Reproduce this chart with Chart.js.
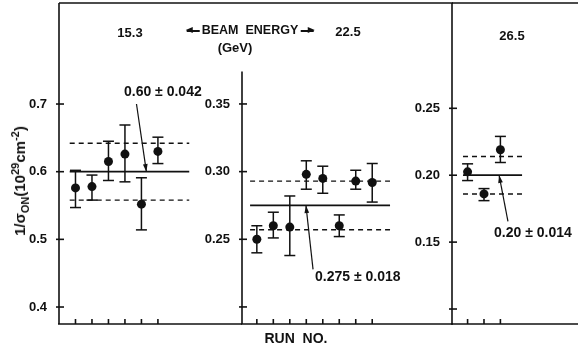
<!DOCTYPE html>
<html>
<head>
<meta charset="utf-8">
<script src="https://cdn.jsdelivr.net/npm/chart.js@4.4.0/dist/chart.umd.min.js"></script>
<style>
  body { margin: 0; background: #fff; }
  #wrap { position: relative; width: 578px; height: 349px; overflow: hidden;
          font-family: 'Liberation Sans', Arial, sans-serif; font-weight: bold; color: #111; }
  #wrap canvas { position: absolute; top: 0; }
  .lbl { position: absolute; white-space: nowrap; transform: translate(-50%, -50%); font-size: 13px; }
  .ytitle { position: absolute; left: 20px; top: 181px; white-space: nowrap; font-size: 15px;
            transform: translate(-50%, -50%) rotate(-90deg); }
  .ytitle sub, .ytitle sup { font-size: 11px; }
  .arr { display: inline-block; position: relative; width: 13px; height: 1.6px; background: #111;
         vertical-align: middle; margin: 0 2px; }
  .arr::before { content: ''; position: absolute; top: -3px; border-top: 3.8px solid transparent;
                 border-bottom: 3.8px solid transparent; }
  .arr.l::before { left: -1px; border-right: 7px solid #111; }
  .arr.r::before { right: -1px; border-left: 7px solid #111; }
</style>
</head>
<body>
<div id="wrap">
  <canvas id="c1" width="242" height="349" style="left:0"></canvas>
  <canvas id="c2" width="270" height="349" style="left:183px"></canvas>
  <canvas id="c3" width="185" height="349" style="left:393px"></canvas>

  <div class="lbl" style="left:130px;top:32px">15.3</div>
  <div class="lbl" style="left:250px;top:30px;font-size:12.5px"><span class="arr l"></span>BEAM&nbsp; ENERGY<span class="arr r"></span></div>
  <div class="lbl" style="left:235px;top:47px;font-size:13px">(GeV)</div>
  <div class="lbl" style="left:348px;top:31px">22.5</div>
  <div class="lbl" style="left:512px;top:35px">26.5</div>
  <div class="ytitle">1/&sigma;<sub>ON</sub>(10<sup>29</sup>cm<sup>-2</sup>)</div>
  <div class="lbl" style="left:296px;top:338px;font-size:14px">RUN&nbsp; NO.</div>
</div>

<script>
// 15.3 GeV runs
const runs1 = [1, 2, 3, 4, 5, 6];
const val1 = [0.576, 0.578, 0.615, 0.626, 0.552, 0.630];
const lo1 = [0.547, 0.558, 0.587, 0.585, 0.514, 0.612];
const hi1 = [0.602, 0.595, 0.645, 0.669, 0.591, 0.651];
const mean1 = 0.60, err1 = 0.042;
const span1 = [0.65, 7.9];
const yTicks1 = [0.4, 0.5, 0.6, 0.7];
const yLabels1 = [0.4, 0.5, 0.6, 0.7];

// 22.5 GeV runs
const runs2 = [1, 2, 3, 4, 5, 6, 7, 8];
const val2 = [0.250, 0.260, 0.259, 0.298, 0.295, 0.260, 0.293, 0.292];
const lo2 = [0.240, 0.251, 0.238, 0.287, 0.284, 0.252, 0.287, 0.2775];
const hi2 = [0.260, 0.270, 0.282, 0.308, 0.304, 0.268, 0.301, 0.306];
const mean2 = 0.275, err2 = 0.018;
const span2 = [0.59, 9.08];
const yTicks2 = [0.20, 0.25, 0.30, 0.35];
const yLabels2 = [0.25, 0.30, 0.35];

// 26.5 GeV runs
const runs3 = [1, 2, 3];
const val3 = [0.2025, 0.186, 0.219];
const lo3 = [0.196, 0.181, 0.2095];
const hi3 = [0.2085, 0.190, 0.229];
const mean3 = 0.20, err3 = 0.014;
const span3 = [0.72, 4.32];
const yTicks3 = [0.10, 0.15, 0.20, 0.25];
const yLabels3 = [0.15, 0.20, 0.25];

const INK = '#111';
const FONT = "bold 14px 'Liberation Sans', Arial, sans-serif";

// frame, inward ticks and the arrowed mean label
const panelDecor = {
  id: 'panelDecor',
  afterDatasetsDraw(chart, args, opts) {
    const { ctx, chartArea: a, scales: { x, y } } = chart;
    const seg = (x0, y0, x1, y1) => { ctx.beginPath(); ctx.moveTo(x0, y0); ctx.lineTo(x1, y1); ctx.stroke(); };
    ctx.save();
    ctx.strokeStyle = INK;
    ctx.fillStyle = INK;
    ctx.lineWidth = 1.6;

    seg(a.left, a.top, a.right, a.top);
    seg(a.left - 1, a.bottom, a.right, a.bottom);
    const axTop = opts.axisTop != null ? y.getPixelForValue(opts.axisTop) : a.top;
    seg(a.left, axTop, a.left, a.bottom);

    y.ticks.forEach(t => {
      const py = y.getPixelForValue(t.value);
      seg(a.left - 3, py, a.left + 5, py);
    });
    opts.runs.forEach(r => {
      const px = x.getPixelForValue(r);
      seg(px, a.bottom, px, a.bottom - 5);
    });

    const n = opts.note;
    const x0 = x.getPixelForValue(n.from[0]), y0 = y.getPixelForValue(n.from[1]);
    const x1 = x.getPixelForValue(n.to[0]), y1 = y.getPixelForValue(n.to[1]);
    ctx.lineWidth = 1.2;
    seg(x0, y0, x1, y1);
    const ang = Math.atan2(y1 - y0, x1 - x0);
    ctx.beginPath();
    ctx.moveTo(x1, y1);
    ctx.lineTo(x1 - 8 * Math.cos(ang - 0.3), y1 - 8 * Math.sin(ang - 0.3));
    ctx.lineTo(x1 - 8 * Math.cos(ang + 0.3), y1 - 8 * Math.sin(ang + 0.3));
    ctx.closePath();
    ctx.fill();

    ctx.font = FONT;
    ctx.textAlign = 'left';
    ctx.textBaseline = 'middle';
    ctx.fillText(n.text, x.getPixelForValue(n.at[0]), y.getPixelForValue(n.at[1]));
    ctx.restore();
  }
};

function makePanel(id, p) {
  const stems = [];
  const caps = [];
  p.runs.forEach((r, i) => {
    stems.push({ x: r, y: p.lo[i] }, { x: r, y: p.hi[i] }, { x: r, y: null });
    caps.push({ x: r, y: p.lo[i] }, { x: r, y: p.hi[i] });
  });
  const hline = (v, dash, w) => ({
    data: [{ x: p.span[0], y: v }, { x: p.span[1], y: v }],
    showLine: true, borderColor: INK, borderWidth: w, borderDash: dash, pointRadius: 0
  });

  return new Chart(document.getElementById(id), {
    type: 'scatter',
    data: {
      datasets: [
        hline(p.mean, [], 1.8),
        hline(p.mean + p.err, [5, 4], 1.4),
        hline(p.mean - p.err, [5, 4], 1.4),
        { data: stems, showLine: true, spanGaps: false, borderColor: INK, borderWidth: 1.5, pointRadius: 0 },
        { data: caps, pointStyle: 'line', pointRadius: 5.5, borderColor: INK, borderWidth: 1.5 },
        { data: p.runs.map((r, i) => ({ x: r, y: p.val[i] })), pointStyle: 'circle', pointRadius: 4.5,
          backgroundColor: INK, borderColor: INK, borderWidth: 0 }
      ]
    },
    options: {
      responsive: false,
      animation: false,
      devicePixelRatio: 1,
      layout: { autoPadding: false, padding: { top: 3, left: 0, right: 0, bottom: 0 } },
      plugins: {
        legend: { display: false },
        tooltip: { enabled: false },
        panelDecor: { runs: p.runs, axisTop: p.axisTop, note: p.note }
      },
      scales: {
        x: {
          type: 'linear', min: p.xRange[0], max: p.xRange[1],
          grid: { display: false }, border: { display: false },
          ticks: { display: false },
          afterFit: s => { s.height = 25; s.paddingLeft = 0; s.paddingRight = 0; }
        },
        y: {
          type: 'linear', min: p.yRange[0], max: p.yRange[1],
          grid: { display: false }, border: { display: false },
          afterBuildTicks: s => { s.ticks = p.yTicks.map(v => ({ value: v })); },
          ticks: {
            color: INK, padding: 4, font: { family: "'Liberation Sans', Arial, sans-serif", size: 13, weight: 'bold' },
            callback: v => p.yLabels.includes(v) ? v.toFixed(p.digits) : ''
          },
          afterFit: s => { s.width = 59; s.paddingTop = 0; s.paddingBottom = 0; }
        }
      }
    },
    plugins: [panelDecor]
  });
}

makePanel('c1', {
  runs: runs1, val: val1, lo: lo1, hi: hi1, mean: mean1, err: err1, span: span1,
  yTicks: yTicks1, yLabels: yLabels1, digits: 1,
  xRange: [0, 11.1], yRange: [0.3749, 0.8493], axisTop: null,
  note: { text: '0.60 \u00b1 0.042', at: [3.94, 0.718], from: [4.7, 0.70], to: [5.3, mean1] }
});

makePanel('c2', {
  runs: runs2, val: val2, lo: lo2, hi: hi2, mean: mean2, err: err2, span: span2,
  yTicks: yTicks2, yLabels: yLabels2, digits: 2,
  xRange: [0.1, 12.9], yRange: [0.1874, 0.4246], axisTop: 0.374,
  note: { text: '0.275 \u00b1 0.018', at: [4.53, 0.222], from: [4.41, 0.2278], to: [3.98, mean2] }
});

makePanel('c3', {
  runs: runs3, val: val3, lo: lo3, hi: hi3, mean: mean3, err: err3, span: span3,
  yTicks: yTicks3, yLabels: yLabels3, digits: 2,
  xRange: [0.05, 7.73], yRange: [0.0888, 0.3287], axisTop: null,
  note: { text: '0.20 \u00b1 0.014', at: [2.61, 0.157], from: [3.46, 0.1655], to: [2.92, mean3] }
});
</script>
</body>
</html>
